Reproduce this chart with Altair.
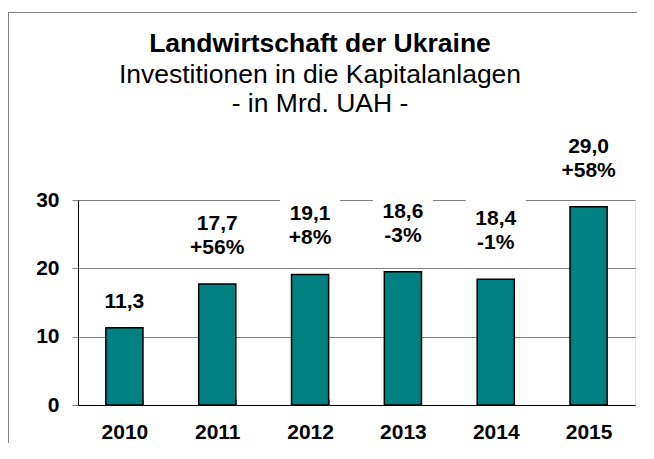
import altair as alt
import pandas as pd

years = ["2010", "2011", "2012", "2013", "2014", "2015"]
values = [11.3, 17.7, 19.1, 19.5, 18.4, 29.0]
value_labels = ["11,3", "17,7", "19,1", "18,6", "18,4", "29,0"]
change_labels = ["", "+56%", "+8%", "-3%", "-1%", "+58%"]
y_ticks = [0, 10, 20, 30]
title_text = "Landwirtschaft der Ukraine"
subtitle_lines = ["Investitionen in die Kapitalanlagen", "- in Mrd. UAH -"]

FONT = "Liberation Sans"
W, H = 557, 205
PAD = {"left": 70, "top": 192, "right": 10, "bottom": 38}
GRAY = "#808080"
TEAL = "#008080"

df = pd.DataFrame({"year": years, "value": values,
                   "vlabel": value_labels, "clabel": change_labels})
df["two"] = df["clabel"] != ""
df["box_lo"] = df["value"] + 3.5
df["box_hi"] = df["value"] + df["two"].map({True: 12.0, False: 6.0})

yscale = alt.Scale(domain=[0, 30], nice=False, zero=True)
x_axis = alt.Axis(labelAngle=0, labelFont=FONT, labelFontSize=21, labelFontWeight="bold",
                  labelColor="black", domain=False, ticks=True, tickBand="extent",
                  tickSize=6, tickColor=GRAY, offset=-6, labelPadding=16, grid=False)
y_axis = alt.Axis(values=y_ticks, labelFont=FONT, labelFontSize=21, labelFontWeight="bold",
                  labelColor="black", domain=True, domainColor="black", domainWidth=1,
                  ticks=True, tickSize=6, tickColor=GRAY, labelPadding=13, grid=True,
                  gridColor={"condition": {"test": "datum.value === 0", "value": "black"},
                             "value": GRAY},
                  gridWidth=1)
x_enc = alt.X("year:N", sort=years, title=None,
              scale=alt.Scale(paddingInner=0.6, paddingOuter=0.3), axis=x_axis)

base = alt.Chart(df)
one = pd.DataFrame({"k": [0]})

# outer chart frame (top and left edges; the others lie outside the picture)
FX = -PAD["left"]
FY = -188
frame_top = alt.Chart(one).mark_rect(fill=GRAY, strokeWidth=0).encode(
    x=alt.value(FX), x2=alt.value(W + 2), y=alt.value(FY), y2=alt.value(FY + 1))
frame_left = alt.Chart(one).mark_rect(fill=GRAY, strokeWidth=0).encode(
    x=alt.value(FX), x2=alt.value(FX + 1), y=alt.value(FY), y2=alt.value(H + PAD["bottom"]))

boxes = base.mark_bar(color="white", size=60).encode(
    x=x_enc,
    y=alt.Y("box_lo:Q", scale=yscale, axis=y_axis, title=None),
    y2="box_hi:Q",
)

bars = base.mark_bar(color=TEAL, stroke="black", strokeWidth=1.5).encode(
    x=x_enc,
    y=alt.Y("value:Q", scale=yscale, axis=y_axis, title=None),
)

txt = dict(font=FONT, fontSize=21, fontWeight="bold", color="black", baseline="middle", align="center")
upper = base.transform_filter("datum.two").mark_text(dy=-60, **txt).encode(
    x=x_enc, y=alt.Y("value:Q", scale=yscale, axis=y_axis, title=None), text="vlabel:N")
lower = base.transform_filter("datum.two").mark_text(dy=-36, **txt).encode(
    x=x_enc, y=alt.Y("value:Q", scale=yscale, axis=y_axis, title=None), text="clabel:N")
single = base.transform_filter("!datum.two").mark_text(dy=-26, **txt).encode(
    x=x_enc, y=alt.Y("value:Q", scale=yscale, axis=y_axis, title=None), text="vlabel:N")

tdf = pd.DataFrame({"t": [title_text]})
s1 = pd.DataFrame({"t": [subtitle_lines[0]]})
s2 = pd.DataFrame({"t": [subtitle_lines[1]]})
t0 = alt.Chart(tdf).mark_text(font=FONT, fontSize=26.5, fontWeight="bold", color="black",
                              align="center", baseline="alphabetic").encode(
    x=alt.value(242), y=alt.value(-148), text="t:N")
t1 = alt.Chart(s1).mark_text(font=FONT, fontSize=26.5, color="black",
                             align="center", baseline="alphabetic").encode(
    x=alt.value(242), y=alt.value(-117), text="t:N")
t2 = alt.Chart(s2).mark_text(font=FONT, fontSize=26.5, color="black",
                             align="center", baseline="alphabetic").encode(
    x=alt.value(242), y=alt.value(-88), text="t:N")

chart = alt.layer(frame_top, frame_left, boxes, bars, upper, lower, single, t0, t1, t2).properties(
    width=W, height=H,
    autosize=alt.AutoSizeParams(type="none"),
    padding=PAD,
).configure_view(stroke=GRAY, strokeWidth=1).configure(background="white")

chart.save("out.html", embed_options={"renderer": "svg", "actions": False})
